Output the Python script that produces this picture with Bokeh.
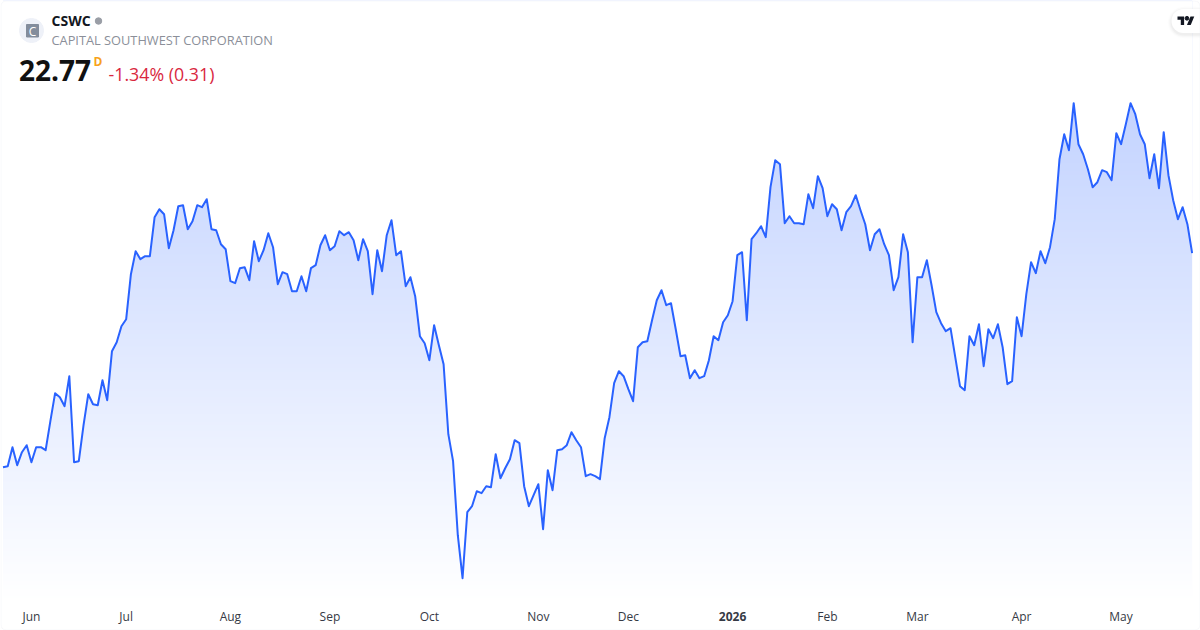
import numpy as np
from bokeh.plotting import figure
from bokeh.embed import file_html
from bokeh.resources import INLINE
from bokeh.core.properties import value
from bokeh.models import Range1d, FixedTicker, LinearAxis, BoxAnnotation

ticker = "CSWC"
company = "CAPITAL SOUTHWEST CORPORATION"
last_price = "22.77"
change_text = "-1.34% (0.31)"

prices = [
 20.63,20.64,20.83,20.65,20.78,20.85,20.68,20.83,20.83,20.80,21.09,21.37,21.33,21.24,21.54,20.68,20.69,21.05,21.36,21.26,21.25,21.50,21.30,21.79,21.88,22.04,22.11,22.56,22.79,22.71,22.74,22.74,23.13,23.21,23.16,22.82,23.00,23.24,23.25,23.01,23.09,23.25,23.23,23.31,23.01,23.00,22.86,22.81,22.49,22.47,22.62,22.63,22.50,22.89,22.69,22.80,22.97,22.83,22.46,22.58,22.56,22.39,22.39,
 22.54,22.39,22.62,22.65,22.85,22.95,22.80,22.84,22.99,22.95,22.98,22.90,22.70,22.91,22.79,22.36,22.80,22.59,22.95,23.10,22.75,22.79,22.44,22.53,22.34,21.94,21.87,21.70,22.05,21.85,21.66,20.96,20.69,19.95,19.52,20.18,20.24,20.39,20.37,20.44,20.43,20.76,20.52,20.62,20.71,20.90,20.87,20.44,20.24,20.35,20.46,20.01,20.60,20.40,20.80,20.81,20.85,20.98,20.90,20.83,20.54,20.56,20.54,20.51,
 20.92,21.13,21.47,21.59,21.54,21.41,21.29,21.83,21.88,21.89,22.10,22.30,22.40,22.25,22.27,22.01,21.74,21.75,21.52,21.60,21.52,21.54,21.70,21.94,21.90,22.08,22.15,22.29,22.75,22.78,22.10,22.91,22.97,23.04,22.93,23.43,23.70,23.66,23.07,23.14,23.07,23.07,23.06,23.36,23.22,23.54,23.42,23.14,23.26,23.21,23.00,23.18,23.24,23.35,23.20,23.06,22.80,22.96,23.01,22.86,22.75,22.40,22.53,
 22.96,22.78,21.88,22.53,22.53,22.70,22.45,22.18,22.07,21.99,22.02,21.73,21.44,21.40,21.94,21.85,22.06,21.64,22.01,21.92,22.06,21.83,21.46,21.49,22.13,21.94,22.36,22.68,22.57,22.79,22.67,22.83,23.11,23.71,23.96,23.80,24.27,23.86,23.76,23.61,23.43,23.48,23.60,23.58,23.50,23.97,23.86,24.06,24.27,24.16,23.96,23.86,23.52,23.76,23.42,23.98,23.55,23.30,23.11,23.23,23.06,22.77,
]
month_positions = [6, 26, 48, 69, 90, 113, 132, 174, 193, 215, 236]
month_labels = ["Jun", "Jul", "Aug", "Sep", "Oct", "Nov", "Dec", "Feb", "Mar", "Apr", "May"]
year_position = 154
year_label = "2026"

W, H, PANE_H = 1200, 630, 601
PX_PER_BAR = 4.7376
X0 = 2.5
PRICE_AT_TOP = 25.297
PRICE_PER_PX = 0.01

idx = np.arange(len(prices))
price = np.array(prices)
y_top = PRICE_AT_TOP
y_pane = PRICE_AT_TOP - PANE_H * PRICE_PER_PX

p = figure(width=W, height=H, output_backend="svg", toolbar_location=None,
           x_range=Range1d(-X0 / PX_PER_BAR, (W - X0) / PX_PER_BAR),
           y_range=Range1d(PRICE_AT_TOP - H * PRICE_PER_PX, y_top),
           x_axis_location=None, y_axis_location=None,
           min_border_left=0, min_border_right=0, min_border_top=0, min_border_bottom=0,
           background_fill_color="white", border_fill_color="white", outline_line_color=None)
p.extra_x_ranges["px"] = Range1d(0, W)
p.extra_y_ranges["px"] = Range1d(H, 0)
p.grid.visible = False

def time_axis(positions, labels, style, standoff):
    ax = LinearAxis(fixed_location=y_pane, ticker=FixedTicker(ticks=positions),
                    major_label_overrides=dict(zip(positions, labels)),
                    major_tick_line_color=None, minor_tick_line_color=None, axis_line_color=None,
                    major_label_standoff=standoff, major_label_text_font="Open Sans",
                    major_label_text_font_size="12px", major_label_text_font_style=style,
                    major_label_text_color="#363a45")
    p.add_layout(ax, "below")

rows = PANE_H
top_alpha, ramp_top_px = 0.28, 100
ramp = np.zeros((rows, 2), dtype=np.uint32)
view = ramp.view(np.uint8).reshape(rows, 2, 4)
for r in range(rows):
    px = PANE_H - r - 0.5
    a = top_alpha * min(1.0, (PANE_H - px) / (PANE_H - ramp_top_px))
    view[r, :, 0] = round(255 - (255 - 41) * a)
    view[r, :, 1] = round(255 - (255 - 98) * a)
    view[r, :, 2] = 255
    view[r, :, 3] = 255
p.image_rgba(image=[ramp], x=0, y=y_pane, dw=len(prices) - 1, dh=y_top - y_pane)
p.varea(x=idx, y1=price, y2=y_top, fill_color="white")
p.line(idx, price, line_color="#2962FF", line_width=2, line_join="round")

time_axis(month_positions, month_labels, "normal", 0)
time_axis([year_position], [year_label], "bold", 4)

def px_text(x, y, text, size, color, style="normal", font="Open Sans", align="left"):
    p.text(x=[x], y=[y], text=[text], x_range_name="px", y_range_name="px",
           text_font=value(font), text_font_size=size, text_font_style=style,
           text_color=color, text_align=align, text_baseline="middle")

p.scatter([31], [30], size=24, color="#eef1f8", x_range_name="px", y_range_name="px")
p.quad(left=[26], right=[38], top=[24], bottom=[36.5], color="#838d9c", x_range_name="px", y_range_name="px")
px_text(32, 30.5, "C", "12px", "white", align="center")
px_text(51, 19.5, ticker, "14px", "#131722", style="bold")
p.scatter([98], [20.5], size=6.5, color="#9a9ea6", x_range_name="px", y_range_name="px")
px_text(51, 39.5, company, "12.8px", "#8b8f99")
px_text(18.5, 70, last_price, "28px", "#111111", style="bold")
px_text(93, 60.5, "D", "12px", "#f7a21b", style="bold")
px_text(108, 73.5, change_text, "17.8px", "#d9283f")

for grow, alpha in [(4, 0.008), (3, 0.012), (2, 0.018), (1, 0.025)]:
    p.add_layout(BoxAnnotation(left=1171 - grow, right=1212, top=8.5 - grow + 1.5, bottom=32.5 + grow + 1.5,
                               x_range_name="px", y_range_name="px", fill_color="black", fill_alpha=alpha,
                               line_color=None, border_radius=12 + grow))
p.add_layout(BoxAnnotation(left=1171, right=1212, top=8.5, bottom=32.5,
                           x_range_name="px", y_range_name="px", fill_color="white", fill_alpha=1,
                           line_color=None, border_radius=12))
s, lx, ly = 17 / 36, 1177, 14
p.patches(xs=[[lx + s * v for v in (14, 7, 7, 0, 0, 14)], [lx + s * v for v in (28, 20, 27.5, 35.5)]],
          ys=[[ly + s * v for v in (22, 22, 11, 11, 4, 4)], [ly + s * v for v in (22, 22, 4, 4)]],
          color="#131722", line_width=0, x_range_name="px", y_range_name="px", level="overlay")
p.scatter([lx + s * 20], [ly + s * 8], size=s * 8, color="#131722", x_range_name="px", y_range_name="px", level="overlay")

p.add_layout(BoxAnnotation(left=0.5, right=W - 0.5, top=0.5, bottom=H - 0.5, left_units="screen", right_units="screen",
                           top_units="screen", bottom_units="screen",
                           fill_alpha=0, line_color="#e6e8ee", line_width=1, border_radius=5))

html = file_html(p, INLINE)
open("out.html", "w").write(html)
